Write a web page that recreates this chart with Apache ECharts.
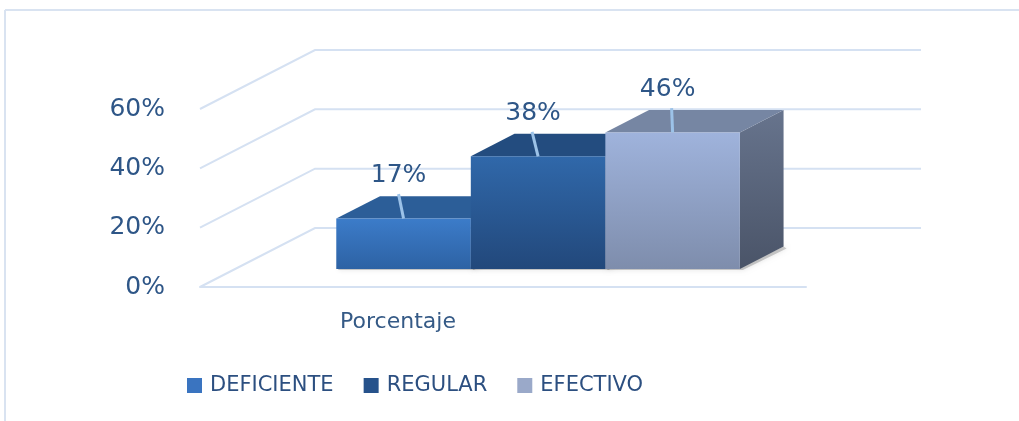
<!DOCTYPE html>
<html lang="es" style="height: 100%">
<head>
  <meta charset="utf-8">
  <title>porcentaje_3d</title>
  <style>
    html body { height: 100%; margin: 0; background: #fff; }
  </style>
</head>
<body style="height: 100%; margin: 0">
  <div id="container" style="width: 1019px; height: 421px"></div>
  <script type="text/javascript" src="https://cdn.jsdelivr.net/npm/echarts@6/dist/echarts.min.js"></script>
  <script type="text/javascript">
    // datos
    var categories = ['Porcentaje'];
    var seriesNames = ['DEFICIENTE', 'REGULAR', 'EFECTIVO'];
    var deficiente = [17];
    var regular = [38];
    var efectivo = [46];
    var yTicks = [0, 20, 40, 60];

    var values = [deficiente, regular, efectivo];

    // estilo de las caras (frente arriba/abajo, tapa, lateral arriba/abajo)
    var faces = [
      { front: ['#3c7cc9', '#2d62a4'], top: '#2c5e98', side: ['#275490', '#1f4577'], legend: '#3a74c0' },
      { front: ['#3068aa', '#22487b'], top: '#234c7f', side: ['#1f4574', '#1a3a63'], legend: '#26528b' },
      { front: ['#9fb3dc', '#7e8dac'], top: '#7686a3', side: ['#67748d', '#4a5468'], legend: '#9aa9c9' }
    ];
    var leaderSlant = [-5, -6, -1];

    var DEPTH_X = 115, DEPTH_Y = 59;   // profundidad total del piso
    var D0 = 0.305, D1 = 0.685;        // posicion de las barras en profundidad
    var BAR_FRAC = 0.222;
    var gridColor = '#d5e1f2';
    var textColor = '#2e5687';

    var dom = document.getElementById('container');
    var myChart = echarts.init(dom, null, { renderer: 'canvas' });

    function grad(c) {
      return new echarts.graphic.LinearGradient(0, 0, 0, 1, [
        { offset: 0, color: c[0] },
        { offset: 1, color: c[1] }
      ]);
    }

    function gridItem(params, api) {
      var p = api.coord([0, api.value(1)]);
      var bw = api.size([1, 0])[0];
      var xl = p[0] - bw / 2;
      var xr = p[0] + bw / 2 + DEPTH_X;
      return {
        type: 'polyline',
        shape: { points: [[xl, p[1]], [xl + DEPTH_X, p[1] - DEPTH_Y], [xr, p[1] - DEPTH_Y]] },
        style: { stroke: gridColor, lineWidth: 2, fill: null }
      };
    }

    function barItem(idx) {
      return function (params, api) {
        var cat = api.value(0), v = api.value(1);
        var base = api.coord([cat, 0]);
        var topP = api.coord([cat, v]);
        var bw = api.size([1, 0])[0];
        var w = bw * BAR_FRAC;
        var x0 = base[0] + (-1.5 + idx) * w + DEPTH_X * D0;
        var x1 = x0 + w;
        var yb = base[1] - DEPTH_Y * D0;
        var yt = topP[1] - DEPTH_Y * D0;
        var dx = DEPTH_X * (D1 - D0), dy = DEPTH_Y * (D1 - D0);
        var f = faces[idx];
        var cx = (x0 + x1) / 2;
        return {
          type: 'group',
          children: [
            {
              type: 'polygon',
              shape: { points: [[x0 + 2, yb - 2], [x1, yb - 2], [x1 + dx, yb - dy], [x1 + dx + 3, yb - dy + 2], [x1 + 3, yb + 1], [x0 + 2, yb + 1]] },
              style: { fill: 'rgba(60,60,60,0.25)', shadowBlur: 5, shadowColor: 'rgba(0,0,0,0.45)' }
            },
            {
              type: 'polygon',
              shape: { points: [[x1, yt], [x1 + dx, yt - dy], [x1 + dx, yb - dy], [x1, yb]] },
              style: { fill: grad(f.side) }
            },
            {
              type: 'polygon',
              shape: { points: [[x0, yt], [x0 + dx, yt - dy], [x1 + dx, yt - dy], [x1, yt]] },
              style: { fill: f.top }
            },
            {
              type: 'rect',
              shape: { x: x0, y: yt, width: w, height: yb - yt },
              style: { fill: grad(f.front) }
            },
            {
              type: 'line',
              shape: { x1: cx + leaderSlant[idx], y1: yt - dy - 2, x2: cx, y2: yt },
              style: { stroke: '#9cc2e8', lineWidth: 3 }
            },
            {
              type: 'text',
              style: {
                text: v + '%',
                x: cx - 5,
                y: yt - 43,
                fill: textColor,
                font: '25px "DejaVu Sans"',
                align: 'center',
                verticalAlign: 'middle'
              }
            }
          ]
        };
      };
    }

    var series = [{
      name: 'grid3d',
      type: 'custom',
      silent: true,
      renderItem: gridItem,
      data: yTicks.map(function (t) { return [0, t]; }),
      z: 1
    }];
    seriesNames.forEach(function (name, i) {
      series.push({
        name: name,
        type: 'custom',
        renderItem: barItem(i),
        itemStyle: { color: faces[i].legend },
        data: values[i].map(function (v, c) { return [c, v]; }),
        z: 2 + i
      });
    });

    var option = {
      animation: false,
      grid: { left: 200, right: 213, top: 109, bottom: 134 },
      xAxis: {
        type: 'category',
        data: categories,
        axisLine: { show: true, lineStyle: { color: gridColor, width: 2 } },
        axisTick: { show: false },
        axisLabel: {
          margin: 24,
          color: '#355a86',
          fontSize: 22,
          fontFamily: 'DejaVu Sans',
          padding: [0, 210, 0, 0]
        }
      },
      yAxis: {
        type: 'value',
        min: 0,
        max: 60,
        interval: 20,
        axisLine: { show: false },
        axisTick: { show: false },
        splitLine: { show: false },
        axisLabel: {
          formatter: '{value}%',
          margin: 35,
          color: textColor,
          fontSize: 25,
          fontFamily: 'DejaVu Sans'
        }
      },
      legend: {
        data: seriesNames,
        left: 182,
        top: 370,
        icon: 'rect',
        itemWidth: 15,
        itemHeight: 15,
        itemGap: 30,
        textStyle: { color: '#2c4f80', fontSize: 21, fontFamily: 'DejaVu Sans', padding: [0, 0, 0, 3] }
      },
      graphic: [
        { type: 'line', shape: { x1: 5, y1: 10, x2: 1019, y2: 10 }, style: { stroke: '#d9e3f1', lineWidth: 2 } },
        { type: 'line', shape: { x1: 5, y1: 10, x2: 5, y2: 421 }, style: { stroke: '#d9e3f1', lineWidth: 2 } }
      ],
      series: series
    };

    myChart.setOption(option);
    window.addEventListener('resize', myChart.resize);
  </script>
</body>
</html>
